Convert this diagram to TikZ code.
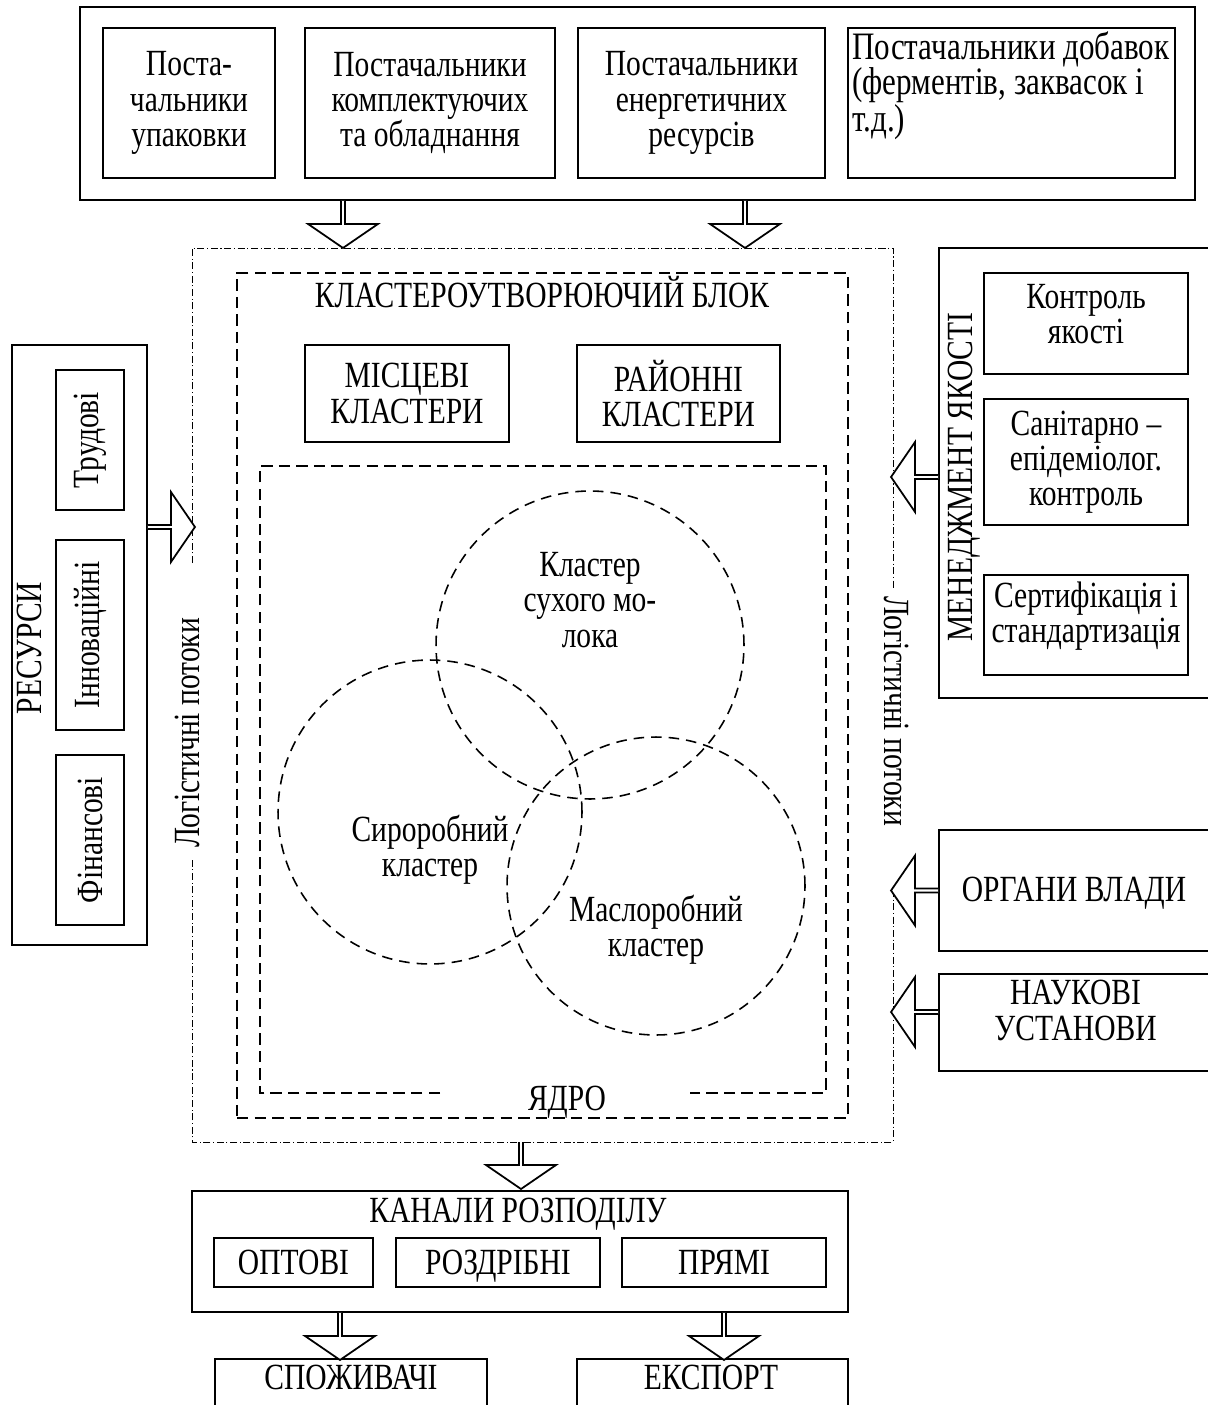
\documentclass[tikz,border=0pt]{standalone}
\usepackage{fontspec}
\setmainfont{Liberation Serif}[FakeStretch=0.8]

\tikzset{
  box/.style={draw, line width=1.1pt, align=center, inner sep=0pt},
  wh/.style 2 args={minimum width=#1*0.02cm, minimum height=#2*0.02cm},
  txt/.style={align=center, inner sep=0pt},
  one/.style={text height=14pt, text depth=0pt},
  dashbox/.style={draw, line width=1.1pt, dash pattern=on 6.5pt off 3.5pt},
  circ/.style={draw, circle, line width=0.9pt, dash pattern=on 6pt off 4pt, inner sep=0pt},
  logline/.style={line width=0.5pt, dash pattern=on 4pt off 1.5pt on 0.6pt off 1.5pt},
  pics/flow/.style={code={
    \draw[line width=1pt, fill=white] (0,-2) -- (23,-2) -- (23,-35) -- (47,0) -- (23,35) -- (23,2) -- (0,2);
  }}
}

\begin{document}
\begin{tikzpicture}[x=0.02cm, y=-0.02cm, font=\fontsize{21}{20}\selectfont]
\useasboundingbox (0,0) rectangle (1207,1405);

% suppliers
\node[box, wh={1115}{193}] (sup) at (637.5,103.5) {};
\node[box, wh={172}{150}] (sup1) at (189,103) {Поста-\\чальники\\упаковки};
\node[box, wh={250}{150}] (sup2) at (430,103) {Постачальники\\комплектуючих\\та обладнання};
\node[box, wh={247}{150}] (sup3) at (701.5,103) {Постачальники\\енергетичних\\ресурсів};
\node[box, wh={327}{150}] (sup4) at (1011.5,103) {};
\node[txt, align=left, anchor=west, font=\fontsize{22.1}{20}\selectfont] (sup4t) at (852,86) {Постачальники добавок\\(ферментів, заквасок і\\т.д.)};

% logistics frame
\coordinate (logS) at (521,1142);
\draw[logline] (192,563) -- (192,248) -- (893,248) -- (893,590);
\draw[logline] (893,890) -- (893,1142) -- (192,1142) -- (192,860);
\node[txt, rotate=90] (logl) at (187,733) {Логістичні потоки};
\node[txt, rotate=-90] (logr) at (897,711) {Логістичні потоки};

% cluster block
\node[dashbox, wh={611}{845}] (clus) at (542.5,695.5) {};
\node[txt, one] (clust) at (542,295) {КЛАСТЕРОУТВОРЮЮЧИЙ БЛОК};
\node[box, wh={204}{97}] (mis) at (407,393.5) {МІСЦЕВІ\\КЛАСТЕРИ};
\node[box, wh={203}{97}] (ray) at (678.5,393.5) {РАЙОННІ\\КЛАСТЕРИ};

% core
\draw[line width=1pt, dash pattern=on 6.5pt off 3.5pt] (440,1093) -- (260,1093) -- (260,466) -- (826,466) -- (826,1093) -- (690,1093);
\node[txt, one] (core) at (567,1098) {ЯДРО};
\node[circ, minimum size=6.16cm] (cdry) at (590,645) {};
\node[circ, minimum size=6.08cm] (cchs) at (430,812) {};
\node[circ, minimum size=5.96cm] (cbtr) at (656,886) {};
\node[txt] (dry) at (590,600) {Кластер\\сухого мо-\\лока};
\node[txt] (chs) at (430,850) {Сироробний\\кластер};
\node[txt] (btr) at (656,930) {Маслоробний\\кластер};

% resources
\node[box, wh={135}{600}] (res) at (79.5,645) {};
\node[txt, rotate=90, one] (rest) at (29,648) {РЕСУРСИ};
\node[box, rotate=90, wh={140}{68}] (lab) at (90,440) {Трудові};
\node[box, rotate=90, wh={190}{68}] (inn) at (90,635) {Інноваційні};
\node[box, rotate=90, wh={170}{68}] (fin) at (90,840) {Фінансові};

% quality management
\node[box, wh={273}{450}] (man) at (1075.5,473) {};
\node[txt, rotate=90, one] (mant) at (960,477) {МЕНЕДЖМЕНТ ЯКОСТІ};
\node[box, wh={204}{101}] (qc) at (1086,323.5) {};
\node[txt] (qct) at ([yshift=0.18cm]qc.center) {Контроль\\якості};
\node[box, wh={204}{126}] (san) at (1086,462) {Санітарно –\\епідеміолог.\\контроль};
\node[box, wh={204}{100}] (cert) at (1086,625) {};
\node[txt] (certt) at ([yshift=0.18cm]cert.center) {Сертифікація і\\стандартизація};

% authorities, science
\node[box, wh={273}{121}] (gov) at (1075.5,890.5) {};
\node[txt, one] (govt) at (1074,889) {ОРГАНИ ВЛАДИ};
\node[box, wh={273}{97}] (sci) at (1075.5,1022.5) {};
\node[txt] (scit) at ([yshift=0.24cm]sci.center) {НАУКОВІ\\УСТАНОВИ};

% distribution
\node[box, wh={656}{121}] (kan) at (520,1251.5) {};
\node[txt, one] (kant) at (518,1210) {КАНАЛИ РОЗПОДІЛУ};
\node[box, one, wh={159}{49}] (opt) at (293.5,1262.5) {ОПТОВІ};
\node[box, one, wh={204}{49}] (rozd) at (498,1262.5) {РОЗДРІБНІ};
\node[box, one, wh={204}{49}] (pr) at (724,1262.5) {ПРЯМІ};
\node[box, wh={272}{80}] (cons) at (351,1399) {};
\node[txt, one] (const) at (351,1377) {СПОЖИВАЧІ};
\node[box, wh={271}{80}] (exp) at (712.5,1399) {};
\node[txt, one] (expt) at (711,1377) {ЕКСПОРТ};

% flows
\pic[rotate=-90] at (sup.south -| 343,0) {flow};
\pic[rotate=-90] at (sup.south -| 745,0) {flow};
\pic at (res.east |- 0,527) {flow};
\pic[rotate=180] at (man.west |- 0,477) {flow};
\pic[rotate=180] at (gov.west) {flow};
\pic[rotate=180] at (sci.west |- 0,1012) {flow};
\pic[rotate=-90] at (logS) {flow};
\pic[rotate=-90] at (kan.south -| 340,0) {flow};
\pic[rotate=-90] at (kan.south -| 724,0) {flow};
\end{tikzpicture}
\end{document}
